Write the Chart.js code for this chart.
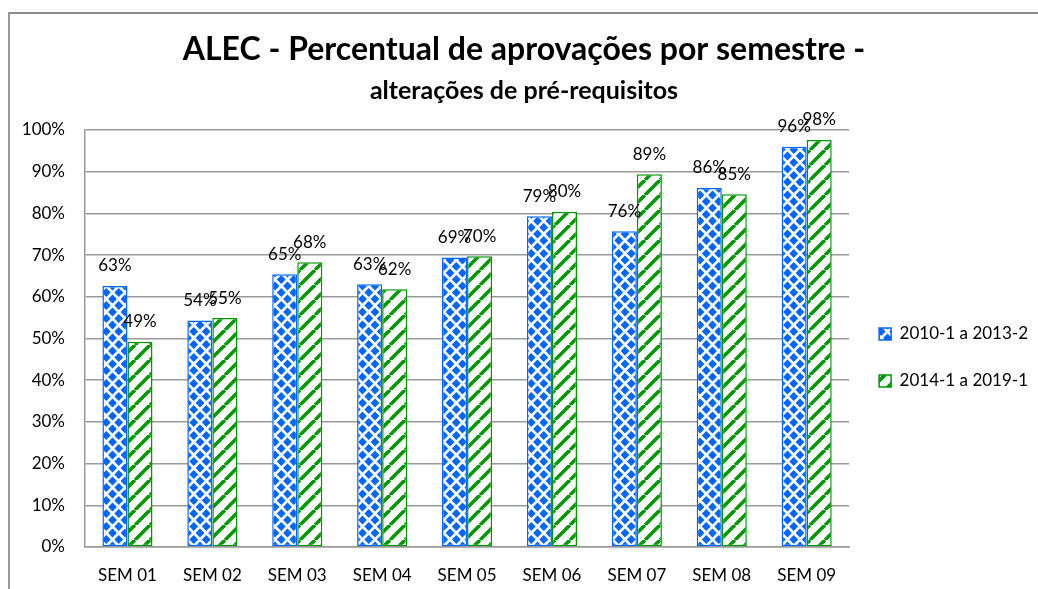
<!DOCTYPE html>
<html>
<head>
<meta charset="utf-8">
<script src="https://cdn.jsdelivr.net/npm/chart.js@4"></script>
<style>
  body { margin: 0; background: #fff; }
  #wrap { position: relative; width: 1038px; height: 589px; overflow: hidden; }
  #frame { position: absolute; left: 8px; top: 12px; width: 1100px; height: 700px;
           border-left: 2px solid #9a9a9a; border-top: 2px solid #8c8c8c; }
  #chart { position: absolute; left: 0; top: 0; }
</style>
</head>
<body>
<div id="wrap">
  <div id="frame"></div>
  <canvas id="chart" width="1038" height="589"></canvas>
</div>
<script>
// Data
const semesters = ['SEM 01', 'SEM 02', 'SEM 03', 'SEM 04', 'SEM 05', 'SEM 06', 'SEM 07', 'SEM 08', 'SEM 09'];
const period1 = [62.6, 54.3, 65.4, 63.0, 69.4, 79.3, 75.7, 86.1, 96.0]; // 2010-1 a 2013-2
const period2 = [49.2, 54.9, 68.3, 61.8, 69.7, 80.4, 89.4, 84.6, 97.6]; // 2014-1 a 2019-1
const seriesNames = ['2010-1 a 2013-2', '2014-1 a 2019-1'];
const yTicks = [0, 10, 20, 30, 40, 50, 60, 70, 80, 90, 100];

const BLUE = 'rgb(0, 102, 255)';
const GREEN = 'rgb(0, 150, 0)';
const FONT = 'Lato';

// blue diamonds (checkerboard turned 45 degrees)
function diamondPattern(color) {
    const w = 12.5, h = 13, rx = 4.4, ry = 4.6;
    const c = document.createElement('canvas');
    c.width = 25; c.height = 26;
    const g = c.getContext('2d');
    g.fillStyle = '#fff';
    g.fillRect(0, 0, 25, 26);
    g.fillStyle = color;
    const d = (cx, cy) => {
        g.beginPath();
        g.moveTo(cx, cy - ry); g.lineTo(cx + rx, cy); g.lineTo(cx, cy + ry); g.lineTo(cx - rx, cy);
        g.closePath(); g.fill();
    };
    for (let i = -1; i <= 2; i++) {
        for (let j = -1; j <= 2; j++) {
            d(i * w, j * h);
            d(i * w + w / 2, j * h + h / 2);
        }
    }
    return g.createPattern(c, 'repeat');
}

// green "/" stripes
function stripePattern(color) {
    const s = 15;
    const c = document.createElement('canvas');
    c.width = s; c.height = s;
    const g = c.getContext('2d');
    g.fillStyle = '#fff';
    g.fillRect(0, 0, s, s);
    g.strokeStyle = color;
    g.lineWidth = 3.6;
    [-s, 0, s].forEach(ox => {
        g.beginPath();
        g.moveTo(ox, s); g.lineTo(ox + s, 0);
        g.stroke();
    });
    return g.createPattern(c, 'repeat');
}

const bluePat = diamondPattern(BLUE);
const greenPat = stripePattern(GREEN);

// percent labels above every bar
const barLabels = {
    id: 'barLabels',
    afterDatasetsDraw(chart) {
        const ctx = chart.ctx;
        ctx.save();
        ctx.font = '17px ' + FONT;
        ctx.fillStyle = '#000';
        ctx.textAlign = 'center';
        ctx.textBaseline = 'middle';
        chart.data.datasets.forEach((ds, i) => {
            chart.getDatasetMeta(i).data.forEach((bar, j) => {
                ctx.fillText(Math.round(ds.data[j]) + '%', bar.x, bar.y - 20);
            });
        });
        ctx.restore();
    }
};

new Chart(document.getElementById('chart'), {
    type: 'bar',
    data: {
        labels: semesters,
        datasets: [{
            label: seriesNames[0],
            data: period1,
            backgroundColor: bluePat,
            borderColor: BLUE,
            borderWidth: 1.5,
            borderSkipped: false
        }, {
            label: seriesNames[1],
            data: period2,
            backgroundColor: greenPat,
            borderColor: GREEN,
            borderWidth: 1.5,
            borderSkipped: false
        }]
    },
    options: {
        responsive: false,
        animation: false,
        categoryPercentage: 0.59,
        barPercentage: 1.0,
        layout: { padding: { top: 30, left: 10, right: 0, bottom: 5 } },
        scales: {
            x: {
                afterFit: scale => { scale.height = 37; },
                grid: { display: false, drawTicks: false },
                border: { display: true, color: '#9a9a9a', width: 1.5 },
                ticks: { color: '#000', font: { family: FONT, size: 17 }, padding: 18 }
            },
            y: {
                min: 0,
                max: 100,
                afterFit: scale => { scale.width = 75; },
                afterBuildTicks: scale => { scale.ticks = yTicks.map(v => ({ value: v })); },
                grid: { color: '#9a9a9a', lineWidth: 1.5, drawTicks: false },
                border: { display: true, color: '#9a9a9a', width: 1.5 },
                ticks: {
                    color: '#000',
                    font: { family: FONT, size: 17 },
                    padding: 20,
                    callback: v => v + '%'
                }
            }
        },
        plugins: {
            title: {
                display: true,
                text: 'ALEC - Percentual de aprovações por semestre -',
                color: '#000',
                font: { family: FONT, size: 32, weight: 'bold' },
                padding: { top: 0, bottom: 8 }
            },
            subtitle: {
                display: true,
                text: 'alterações de pré-requisitos',
                color: '#000',
                font: { family: FONT, size: 25, weight: 'bold' },
                padding: { top: 0, bottom: 23.6 }
            },
            legend: {
                position: 'right',
                fullSize: false,
                title: { display: true, text: ' ', font: { size: 10 }, padding: 13 },
                labels: {
                    color: '#000',
                    font: { family: FONT, size: 17 },
                    boxWidth: 12,
                    boxHeight: 12,
                    padding: 30,
                    generateLabels: chart => chart.data.datasets.map((ds, i) => ({
                        text: ds.label,
                        fillStyle: ds.backgroundColor,
                        strokeStyle: ds.borderColor,
                        lineWidth: 1.5,
                        fontColor: '#000',
                        datasetIndex: i
                    }))
                }
            },
            tooltip: { enabled: false }
        }
    },
    plugins: [barLabels]
});
</script>
</body>
</html>
